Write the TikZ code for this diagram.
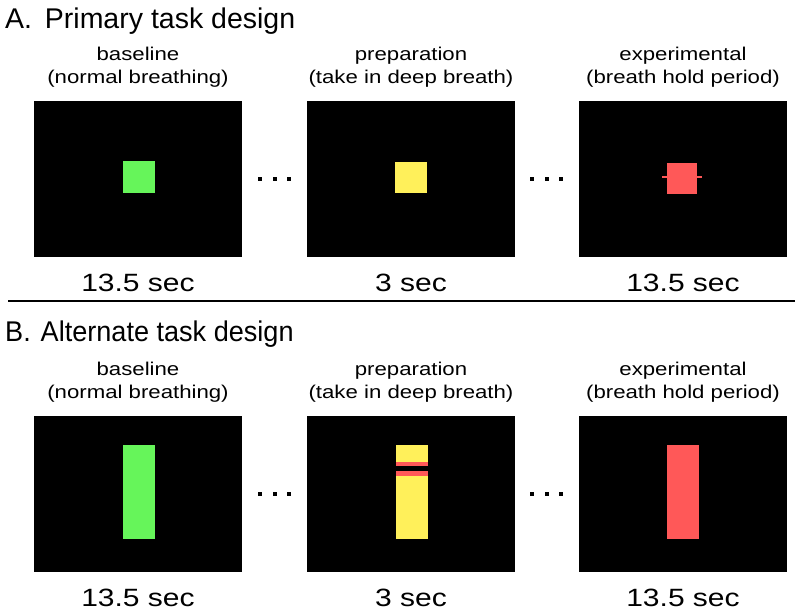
\documentclass[tikz,border=0pt]{standalone}
\usepackage{fontspec}
\setmainfont{Liberation Sans}
\newfontfamily\titlefont{Liberation Sans}
\newfontfamily\titlefontB[FakeStretch=0.95]{Liberation Sans}
\newfontfamily\subfont[FakeStretch=1.2]{Liberation Sans}
\definecolor{cgreen}{RGB}{102,245,90}
\definecolor{cyellow}{RGB}{255,240,90}
\definecolor{cred}{RGB}{255,88,88}
\begin{document}
\begin{tikzpicture}[x=1pt,y=-1pt,
  panel/.style={fill=black,inner sep=0pt,minimum width=208pt,minimum height=156pt},
  blk/.style={fill=#1,inner sep=0pt,draw=none},
  dot/.style={fill=black,inner sep=0pt,minimum size=4pt},
  title/.style={anchor=base west,inner sep=0pt,font=\titlefont\fontsize{28.5}{30}\selectfont},
  titleB/.style={anchor=base west,inner sep=0pt,font=\titlefontB\fontsize{28.5}{30}\selectfont},
  sub/.style={anchor=base,inner sep=0pt,font=\subfont\fontsize{18.5}{20}\selectfont},
  dur/.style={anchor=base,inner sep=0pt,font=\subfont\fontsize{25}{27}\selectfont}]
\useasboundingbox (0,0) rectangle (800,613);
% ---------- A ----------
\node[title] (tA) at (5,28) {A.\hspace{0.45em}Primary task design};
\node[sub] (a1s1) at (138,60) {baseline};
\node[sub] (a1s2) at (138,83) {(normal breathing)};
\node[sub] (a2s1) at (411,60) {preparation};
\node[sub] (a2s2) at (411,83) {(take in deep breath)};
\node[sub] (a3s1) at (683,60) {experimental};
\node[sub] (a3s2) at (683,83) {(breath hold period)};
\node[panel] (a1) at (138,179) {};
\node[panel] (a2) at (411,179) {};
\node[panel] (a3) at (683,179) {};
\node[blk=cgreen,minimum width=32pt,minimum height=32pt] (ag) at (139,177) {};
\node[blk=cyellow,minimum width=32pt,minimum height=31pt] (ay) at (411,177.5) {};
\node[blk=cred,minimum width=30pt,minimum height=31pt] (ar) at (682,178.5) {};
\coordinate (arl) at (662,177);
\coordinate (arr) at (702,177);
\draw[cred,line width=2pt] (arl) -- (arr);
\foreach \x/\n in {260/1,274.5/2,289/3,532/4,547/5,561/6}
  \node[dot] (ad\n) at (\x,179) {};
\node[dur] (ad1t) at (138,291) {13.5 sec};
\node[dur] (ad2t) at (411,291) {3 sec};
\node[dur] (ad3t) at (683,291) {13.5 sec};
% rule
\coordinate (rl) at (8,301);
\coordinate (rr) at (795,301);
\draw[line width=2.6pt] (rl) -- (rr);
% ---------- B ----------
\node[titleB] (tB) at (5,341) {B.\hspace{0.35em}Alternate task design};
\node[sub] (b1s1) at (138,375) {baseline};
\node[sub] (b1s2) at (138,398) {(normal breathing)};
\node[sub] (b2s1) at (411,375) {preparation};
\node[sub] (b2s2) at (411,398) {(take in deep breath)};
\node[sub] (b3s1) at (683,375) {experimental};
\node[sub] (b3s2) at (683,398) {(breath hold period)};
\node[panel] (b1) at (138,494) {};
\node[panel] (b2) at (411,494) {};
\node[panel] (b3) at (683,494) {};
\node[blk=cgreen,minimum width=32pt,minimum height=94pt] (bg) at (139,492) {};
\node[blk=cyellow,minimum width=32pt,minimum height=94pt] (by) at (412,492) {};
\node[blk=cred,minimum width=32pt,minimum height=14pt] (bys) at (412,469) {};
\node[blk=black,minimum width=32pt,minimum height=5pt] (byb) at (412,468.5) {};
\node[blk=cred,minimum width=32pt,minimum height=94pt] (br) at (683,492) {};
\foreach \x/\n in {260/1,274.5/2,289/3,532/4,547/5,561/6}
  \node[dot] (bd\n) at (\x,494) {};
\node[dur] (bd1t) at (138,606) {13.5 sec};
\node[dur] (bd2t) at (411,606) {3 sec};
\node[dur] (bd3t) at (683,606) {13.5 sec};
\end{tikzpicture}
\end{document}
